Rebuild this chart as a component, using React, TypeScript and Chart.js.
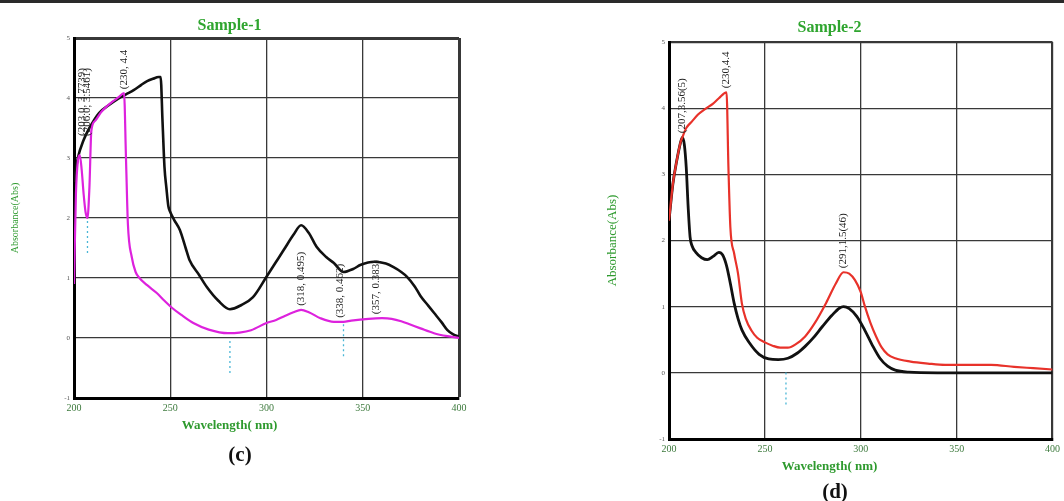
import React, { useEffect, useRef } from 'react';
import { Chart, registerables } from 'chart.js';

Chart.register(...registerables);

const SERIF = "'Liberation Serif', 'Times New Roman', serif";

const xTicks = [200, 250, 300, 350, 400];
const yTicks = [-1, 0, 1, 2, 3, 4, 5];

// ---------- Sample-1 ----------
const s1BlackWl = [200, 202, 205, 208, 213, 218, 222, 227, 231, 235, 238, 241, 244, 245, 246, 247, 248, 249, 250, 252, 255, 258, 260, 265, 269, 275, 281, 287, 293, 300, 305, 309, 314, 318, 322, 326, 331, 335, 340, 345, 349, 356, 362, 366, 370, 373, 377, 380, 384, 387, 391, 394, 397, 400];
const s1BlackAbs = [2.6, 3.0, 3.3, 3.5, 3.75, 3.88, 3.97, 4.06, 4.13, 4.22, 4.28, 4.32, 4.35, 4.35, 3.6, 2.85, 2.5, 2.2, 2.1, 1.97, 1.8, 1.5, 1.3, 1.05, 0.85, 0.62, 0.48, 0.55, 0.68, 1.02, 1.27, 1.47, 1.72, 1.88, 1.75, 1.52, 1.35, 1.25, 1.1, 1.15, 1.22, 1.27, 1.24, 1.18, 1.1, 1.02, 0.86, 0.7, 0.54, 0.42, 0.26, 0.13, 0.06, 0.02];

const s1MagentaWl = [200, 201, 202, 203, 204, 205, 206, 207, 208, 209, 211, 214, 217, 220, 223, 226, 227, 228, 230, 232, 234, 238, 243, 247, 251, 256, 262, 270, 280, 286, 292, 300, 305, 309, 314, 318, 322, 328, 335, 340, 344, 353, 360, 365, 370, 375, 380, 387, 394, 400];
const s1MagentaAbs = [0.9, 2.4, 2.95, 3.05, 2.8, 2.4, 2.1, 2.0, 2.5, 3.45, 3.62, 3.76, 3.86, 3.94, 4.01, 4.08, 3.0, 1.9, 1.35, 1.1, 1.0, 0.88, 0.75, 0.62, 0.5, 0.38, 0.25, 0.14, 0.08, 0.09, 0.13, 0.25, 0.3, 0.36, 0.43, 0.47, 0.43, 0.33, 0.27, 0.27, 0.29, 0.32, 0.33, 0.32, 0.28, 0.22, 0.16, 0.08, 0.03, 0.0];

const s1PeakWl = [204, 207, 226, 318, 338, 357];
const s1PeakAbs = [3.3, 3.3, 4.08, 0.47, 0.27, 0.33];
const s1PeakText = ['(203.0, 3.7739)', '(206.0, 3.5461)', '(230, 4.4', '(318, 0.495)', '(338, 0.462)', '(357, 0.383)'];
const s1ValleyWl = [207, 281, 340];
const s1ValleyAbs = [2.0, 0.0, 0.28];

// ---------- Sample-2 ----------
const s2BlackWl = [200, 202, 204, 206, 207, 208, 209, 210, 211, 212, 214, 217, 220, 223, 226, 228, 230, 232, 234, 236, 238, 242, 247, 252, 257, 262, 267, 271, 275, 280, 285, 289, 291, 294, 298, 302, 306, 310, 314, 318, 325, 340, 370, 400];
const s2BlackAbs = [2.3, 2.85, 3.2, 3.48, 3.56, 3.45, 3.1, 2.5, 2.05, 1.92, 1.82, 1.74, 1.71, 1.76, 1.82, 1.78, 1.62, 1.35, 1.05, 0.82, 0.65, 0.45, 0.28, 0.21, 0.2, 0.22, 0.3, 0.4, 0.52, 0.7, 0.87, 0.98, 1.0, 0.97, 0.85, 0.65, 0.42, 0.22, 0.1, 0.04, 0.01, 0.0, 0.0, 0.0];

const s2RedWl = [200, 202, 204, 206, 207, 209, 212, 215, 219, 223, 226, 230, 231, 232, 234, 236, 238, 240, 243, 246, 250, 254, 258, 262, 266, 271, 276, 282, 287, 291, 294, 297, 300, 302, 305, 308, 311, 314, 318, 326, 335, 344, 356, 368, 380, 390, 400];
const s2RedAbs = [2.3, 2.85, 3.2, 3.48, 3.56, 3.7, 3.8, 3.9, 3.99, 4.07, 4.15, 4.24, 3.1, 2.2, 1.8, 1.5, 1.05, 0.82, 0.64, 0.53, 0.46, 0.41, 0.38, 0.38, 0.43, 0.55, 0.75, 1.06, 1.35, 1.52, 1.5, 1.4, 1.22, 1.02, 0.76, 0.55, 0.38, 0.28, 0.22, 0.17, 0.14, 0.12, 0.12, 0.12, 0.09, 0.07, 0.05];

const s2PeakWl = [207, 230, 291];
const s2PeakAbs = [3.56, 4.24, 1.52];
const s2PeakText = ['(207,3.56(5)', '(230,4.4', '(291,1.5(46)'];
const s2ValleyWl = [261];
const s2ValleyAbs = [0.05];

type Series = { wl: number[]; abs: number[]; color: string; width: number; label: string };

function notesPlugin(peakWl: number[], peakAbs: number[], peakText: string[], valleyWl: number[], valleyAbs: number[]) {
  return {
    id: 'peakNotes',
    afterDatasetsDraw(chart: any) {
      const { ctx, chartArea, scales } = chart;
      const x = scales.x;
      const y = scales.y;
      ctx.save();
      ctx.beginPath();
      ctx.rect(chartArea.left, chartArea.top, chartArea.right - chartArea.left, chartArea.bottom - chartArea.top);
      ctx.clip();
      ctx.strokeStyle = '#49b6d6';
      ctx.lineWidth = 1.3;
      ctx.setLineDash([2, 3]);
      valleyWl.forEach((w, i) => {
        const px = x.getPixelForValue(w);
        const py = y.getPixelForValue(valleyAbs[i]);
        ctx.beginPath();
        ctx.moveTo(px, py + 3);
        ctx.lineTo(px, py + 38);
        ctx.stroke();
      });
      ctx.setLineDash([]);
      ctx.fillStyle = '#222';
      ctx.font = `11px ${SERIF}`;
      ctx.textAlign = 'left';
      ctx.textBaseline = 'middle';
      peakWl.forEach((w, i) => {
        const px = x.getPixelForValue(w);
        const py = y.getPixelForValue(peakAbs[i]);
        ctx.save();
        ctx.translate(px, py - 4);
        ctx.rotate(-Math.PI / 2);
        ctx.fillText(peakText[i], 0, 0);
        ctx.restore();
      });
      ctx.restore();
    },
  };
}

type Cfg = {
  title: string;
  series: Series[];
  yWidth: number;
  yTitlePad: number;
  yTitleSize: number;
  rightPad: number;
  titlePad: { top: number; bottom: number };
  subPad: { top: number; bottom: number };
  xHeight: number;
  edgeWidth: number;
  plugin: any;
};

function buildConfig(c: Cfg): any {
  return {
    type: 'line',
    data: {
      datasets: c.series.map((s) => ({
        label: s.label,
        data: s.wl.map((w, i) => ({ x: w, y: s.abs[i] })),
        borderColor: s.color,
        borderWidth: s.width,
        pointRadius: 0,
        fill: false,
        cubicInterpolationMode: 'monotone',
      })),
    },
    plugins: [c.plugin],
    options: {
      responsive: false,
      animation: false,
      events: [],
      layout: { padding: { left: 0, right: c.rightPad, top: 0, bottom: 0 } },
      plugins: {
        legend: { display: false },
        tooltip: { enabled: false },
        title: {
          display: true,
          text: c.title,
          color: '#2fa52f',
          font: { family: SERIF, size: 16, weight: 'bold' },
          padding: c.titlePad,
        },
        subtitle: {
          display: true,
          position: 'bottom',
          text: 'Wavelength( nm)',
          color: '#2e9a2e',
          font: { family: SERIF, size: 13, weight: 'bold' },
          padding: c.subPad,
        },
      },
      scales: {
        x: {
          type: 'linear',
          min: 200,
          max: 400,
          afterBuildTicks: (s: any) => {
            s.ticks = xTicks.map((v) => ({ value: v }));
          },
          afterFit: (s: any) => {
            s.height = c.xHeight;
          },
          ticks: {
            color: '#3d7a3d',
            font: { family: SERIF, size: 10 },
            padding: 4,
            maxRotation: 0,
          },
          grid: {
            color: '#383838',
            lineWidth: (ctx: any) => (ctx.tick && ctx.tick.value === 400 ? c.edgeWidth : 1.3),
            drawTicks: false,
          },
          border: { color: '#000', width: 3 },
        },
        y: {
          type: 'linear',
          min: -1,
          max: 5,
          afterBuildTicks: (s: any) => {
            s.ticks = yTicks.map((v) => ({ value: v }));
          },
          afterFit: (s: any) => {
            s.width = c.yWidth;
          },
          ticks: {
            color: '#555',
            font: { family: SERIF, size: 7 },
            padding: 4,
          },
          grid: {
            color: '#383838',
            lineWidth: (ctx: any) => (ctx.tick && ctx.tick.value === 5 ? c.edgeWidth : 1.3),
            drawTicks: false,
          },
          border: { color: '#000', width: 3 },
          title: {
            display: true,
            text: 'Absorbance(Abs)',
            color: '#2e9a2e',
            font: { family: SERIF, size: c.yTitleSize },
            padding: { top: c.yTitlePad, bottom: 0 },
          },
        },
      },
    },
  };
}

function SpectrumChart({ cfg, left, width, height }: { cfg: Cfg; left: number; width: number; height: number }) {
  const ref = useRef<HTMLCanvasElement>(null);
  useEffect(() => {
    const chart = new Chart(ref.current as HTMLCanvasElement, buildConfig(cfg));
    return () => chart.destroy();
  }, []);
  return (
    <canvas
      ref={ref}
      width={width}
      height={height}
      style={{ position: 'absolute', left, top: 0, width, height, display: 'block' }}
    />
  );
}

const cfg1: Cfg = {
  title: 'Sample-1',
  series: [
    { label: 'Sample-1 a', wl: s1MagentaWl, abs: s1MagentaAbs, color: '#dd22dd', width: 2.2 },
    { label: 'Sample-1 b', wl: s1BlackWl, abs: s1BlackAbs, color: '#111111', width: 2.6 },
  ],
  yWidth: 74,
  yTitlePad: 9,
  yTitleSize: 10,
  rightPad: 27,
  titlePad: { top: 16.4, bottom: 2.4 },
  subPad: { top: 0, bottom: 36.4 },
  xHeight: 20,
  edgeWidth: 3,
  plugin: notesPlugin(s1PeakWl, s1PeakAbs, s1PeakText, s1ValleyWl, s1ValleyAbs),
};

const cfg2: Cfg = {
  title: 'Sample-2',
  series: [
    { label: 'Sample-2 a', wl: s2RedWl, abs: s2RedAbs, color: '#e8322a', width: 2.2 },
    { label: 'Sample-2 b', wl: s2BlackWl, abs: s2BlackAbs, color: '#111111', width: 2.8 },
  ],
  yWidth: 65,
  yTitlePad: 0.5,
  yTitleSize: 13,
  rightPad: 9,
  titlePad: { top: 18, bottom: 4.8 },
  subPad: { top: 0, bottom: 26.4 },
  xHeight: 20,
  edgeWidth: 2.2,
  plugin: notesPlugin(s2PeakWl, s2PeakAbs, s2PeakText, s2ValleyWl, s2ValleyAbs),
};

export default function App() {
  return (
    <div style={{ position: 'absolute', left: 0, top: 0, width: 1064, height: 501, background: '#fff', overflow: 'hidden' }}>
      <div style={{ position: 'absolute', left: 0, top: 0, width: 1064, height: 3, background: '#2a2a2a' }} />
      <SpectrumChart cfg={cfg1} left={0} width={486} height={470} />
      <SpectrumChart cfg={cfg2} left={604} width={460} height={501} />
      <div style={{ position: 'absolute', left: 200, width: 80, top: 442, textAlign: 'center', font: `bold 21px ${SERIF}`, color: '#111' }}>(c)</div>
      <div style={{ position: 'absolute', left: 795, width: 80, top: 479, textAlign: 'center', font: `bold 21px ${SERIF}`, color: '#111' }}>(d)</div>
    </div>
  );
}
